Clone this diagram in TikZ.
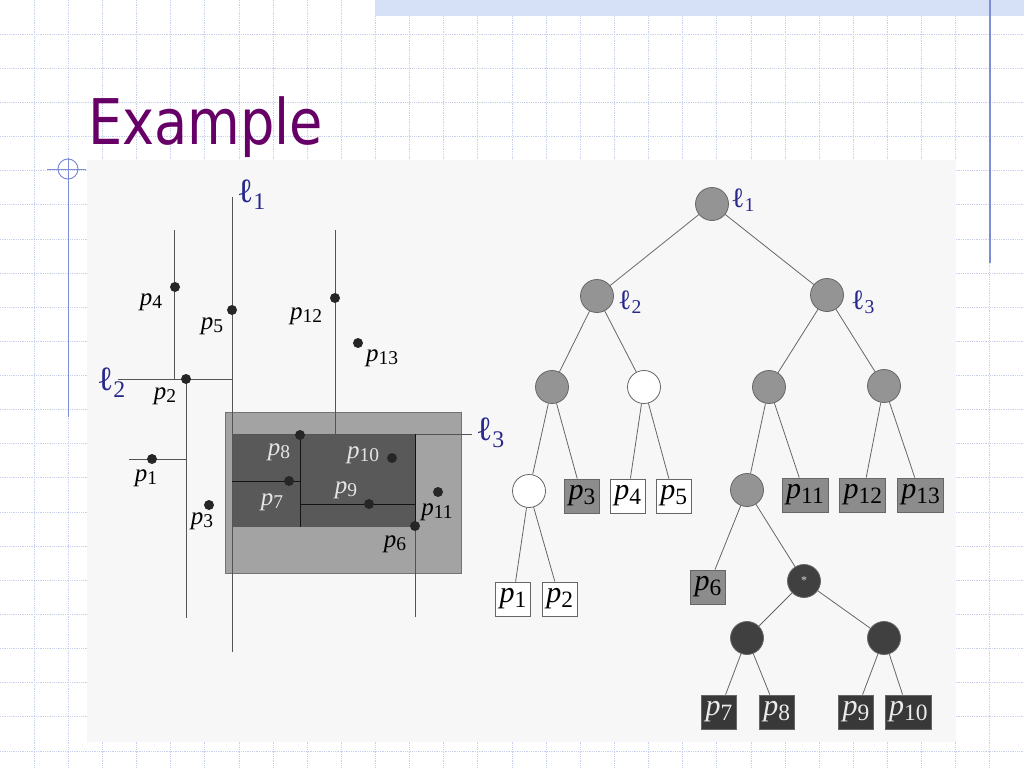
\documentclass[tikz,border=0pt]{standalone}
\usepackage{fontspec}
\setmainfont{Liberation Serif}
\newfontfamily\titlefont[FakeStretch=0.86]{DejaVu Sans}
\usepackage{xcolor}
\usepackage{graphicx}
\usepackage{tikz}
\usetikzlibrary{shapes,positioning,calc}

\definecolor{titlepurple}{RGB}{102,0,102}
\definecolor{gridblue}{RGB}{200,208,240}
\definecolor{bandblue}{RGB}{214,224,247}
\definecolor{rulerblue}{RGB}{125,142,214}
\definecolor{cutblue}{RGB}{40,40,140}

\newcommand{\pl}[1]{\textit{p}\raisebox{-0.15em}{\scalebox{0.78}{#1}}}
\newcommand{\cutl}[1]{ℓ\textsubscript{#1}}

\begin{document}
\begin{tikzpicture}[x=1pt, y=-1pt,
    gridline/.style={gridblue, densely dotted, line width=0.8pt},
    splitline/.style={black!67, line width=1pt},
    innerline/.style={black!92, line width=1pt},
    ptdot/.style={circle, fill=black!85, inner sep=0pt, minimum size=10pt},
    plabel/.style={inner sep=0pt, font=\fontsize{25}{25}\selectfont},
    inlabel/.style={plabel, text=black!10},
    cutlabel/.style={inner sep=0pt, anchor=west, text=cutblue, font=\fontsize{34}{34}\selectfont},
    treecut/.style={cutlabel, font=\fontsize{28}{28}\selectfont},
    kdnode/.style={circle, draw=black!60, line width=0.8pt, fill=black!42,
        minimum size=33pt, inner sep=0pt},
    kdwhite/.style={kdnode, fill=white},
    kddark/.style={kdnode, fill=black!75},
    leaf/.style={rectangle, draw=black!60, line width=0.8pt, fill=white,
        minimum width=35pt, minimum height=34pt, inner sep=1pt,
        font=\fontsize{30}{30}\selectfont},
    greyleaf/.style={leaf, fill=black!45},
    darkleaf/.style={leaf, fill=black!78, text=black!8},
    wideleaf/.style={minimum width=46pt},
    treeedge/.style={black!60, line width=0.8pt}
]
    \useasboundingbox (0,0) rectangle (1024,768);
    \fill[white] (0,0) rectangle (1024,768);

    % Slide background
    \foreach \k in {1,...,29}
        \draw[gridline] ({\k*34.133},0) -- ({\k*34.133},768);
    \foreach \k in {1,...,22}
        \draw[gridline] (0,{\k*34.133}) -- (1024,{\k*34.133});
    \fill[bandblue] (375,0) rectangle (1024,16);
    \draw[rulerblue, line width=1.5pt] (990,0) -- (990,263);
    \draw[rulerblue, line width=1pt] (68,169) circle (10pt);
    \draw[rulerblue, line width=1pt] (47,169) -- (86,169);
    \draw[rulerblue, line width=1pt] (68,158) -- (68,417);

    % Scanned figure
    \fill[black!3] (87,160) rectangle (956,742);

    \node[anchor=base west, inner sep=0pt, text=titlepurple,
        font=\titlefont\fontsize{63}{63}\selectfont] (title) at (88,144) {Example};

    % Left: plane subdivision
    \fill[black!36] (225,412) rectangle (461,573);
    \draw[black!55, line width=0.6pt] (225,412) rectangle (461,573);
    \fill[black!65] (232,435) rectangle (415,527);

    \draw[splitline] (232,197) -- (232,652);
    \draw[splitline] (118,379) -- (232,379);
    \draw[splitline] (232,434) -- (472,434);
    \draw[splitline] (174,230) -- (174,379);
    \draw[splitline] (186,379) -- (186,618);
    \draw[splitline] (129,459) -- (186,459);
    \draw[splitline] (335,230) -- (335,434);
    \draw[splitline] (415,527) -- (415,617);
    \draw[innerline] (300,434) -- (300,527);
    \draw[innerline] (232,481) -- (300,481);
    \draw[innerline] (300,504) -- (415,504);
    \draw[innerline] (415,434) -- (415,527);

    \foreach \n/\x/\y in {1/152/459, 2/186/379, 3/209/505, 4/175/287, 5/232/310,
        6/415/526, 7/289/481, 8/300/435, 9/369/504, 10/392/458, 11/438/492,
        12/335/298, 13/358/343}
        \node[ptdot] (pt\n) at (\x,\y) {};

    \foreach \n/\x/\y in {1/146/478, 2/165/396, 3/202/521, 4/151/302, 5/212/326,
        6/395/544, 11/437/512, 12/306/316, 13/382/358}
        \node[plabel] (lb\n) at (\x,\y) {\pl{\n}};
    \foreach \n/\x/\y in {7/272/502, 8/279/452, 9/346/490, 10/363/455}
        \node[inlabel] (lb\n) at (\x,\y) {\pl{\n}};

    \node[cutlabel] (cut1) at (237,195) {\cutl{1}};
    \node[cutlabel] (cut2) at (97,383) {\cutl{2}};
    \node[cutlabel] (cut3) at (476,433) {\cutl{3}};

    % Right: kd-tree
    \node[kdnode] (t1) at (712,204) {};
    \node[kdnode] (t2) at (597,296) {};
    \node[kdnode] (t3) at (827,295) {};
    \node[kdnode] (t4) at (552,387) {};
    \node[kdwhite] (t5) at (644,387) {};
    \node[kdnode] (t6) at (769,387) {};
    \node[kdnode] (t7) at (884,386) {};
    \node[kdwhite] (t8) at (529,491) {};
    \node[kdnode] (t9) at (747,490) {};
    \node[kddark, text=black!15, font=\fontsize{12}{12}\selectfont] (t10) at (804,581) {*};
    \node[kddark] (t11) at (747,638) {};
    \node[kddark] (t12) at (884,638) {};

    \node[treecut] (tcut1) at (731,200) {\cutl{1}};
    \node[treecut] (tcut2) at (618,302) {\cutl{2}};
    \node[treecut] (tcut3) at (851,302) {\cutl{3}};

    % Leaves
    \node[greyleaf] (q3) at (582,496) {\pl{3}};
    \node[leaf, right=10pt of q3] (q4) {\pl{4}};
    \node[leaf, right=10pt of q4] (q5) {\pl{5}};
    \node[leaf] (q1) at (513,599) {\pl{1}};
    \node[leaf, right=11pt of q1] (q2) {\pl{2}};
    \node[greyleaf, wideleaf] (q11) at (805,495) {\pl{11}};
    \node[greyleaf, wideleaf, right=11pt of q11] (q12) {\pl{12}};
    \node[greyleaf, wideleaf, right=11pt of q12] (q13) {\pl{13}};
    \node[greyleaf] (q6) at (708,587) {\pl{6}};
    \node[darkleaf] (q7) at (719,712) {\pl{7}};
    \node[darkleaf, right=22pt of q7] (q8) {\pl{8}};
    \node[darkleaf] (q9) at (856,712) {\pl{9}};
    \node[darkleaf, wideleaf, right=11pt of q9] (q10) {\pl{10}};

    % Edges
    \foreach \a/\b in {t1/t2, t1/t3, t2/t4, t2/t5, t3/t6, t3/t7, t4/t8, t4/q3,
        t5/q4, t5/q5, t6/t9, t6/q11, t7/q12, t7/q13, t8/q1, t8/q2, t9/q6,
        t9/t10, t10/t11, t10/t12, t11/q7, t11/q8, t12/q9, t12/q10}
        \draw[treeedge] (\a) -- (\b);
\end{tikzpicture}
\end{document}
